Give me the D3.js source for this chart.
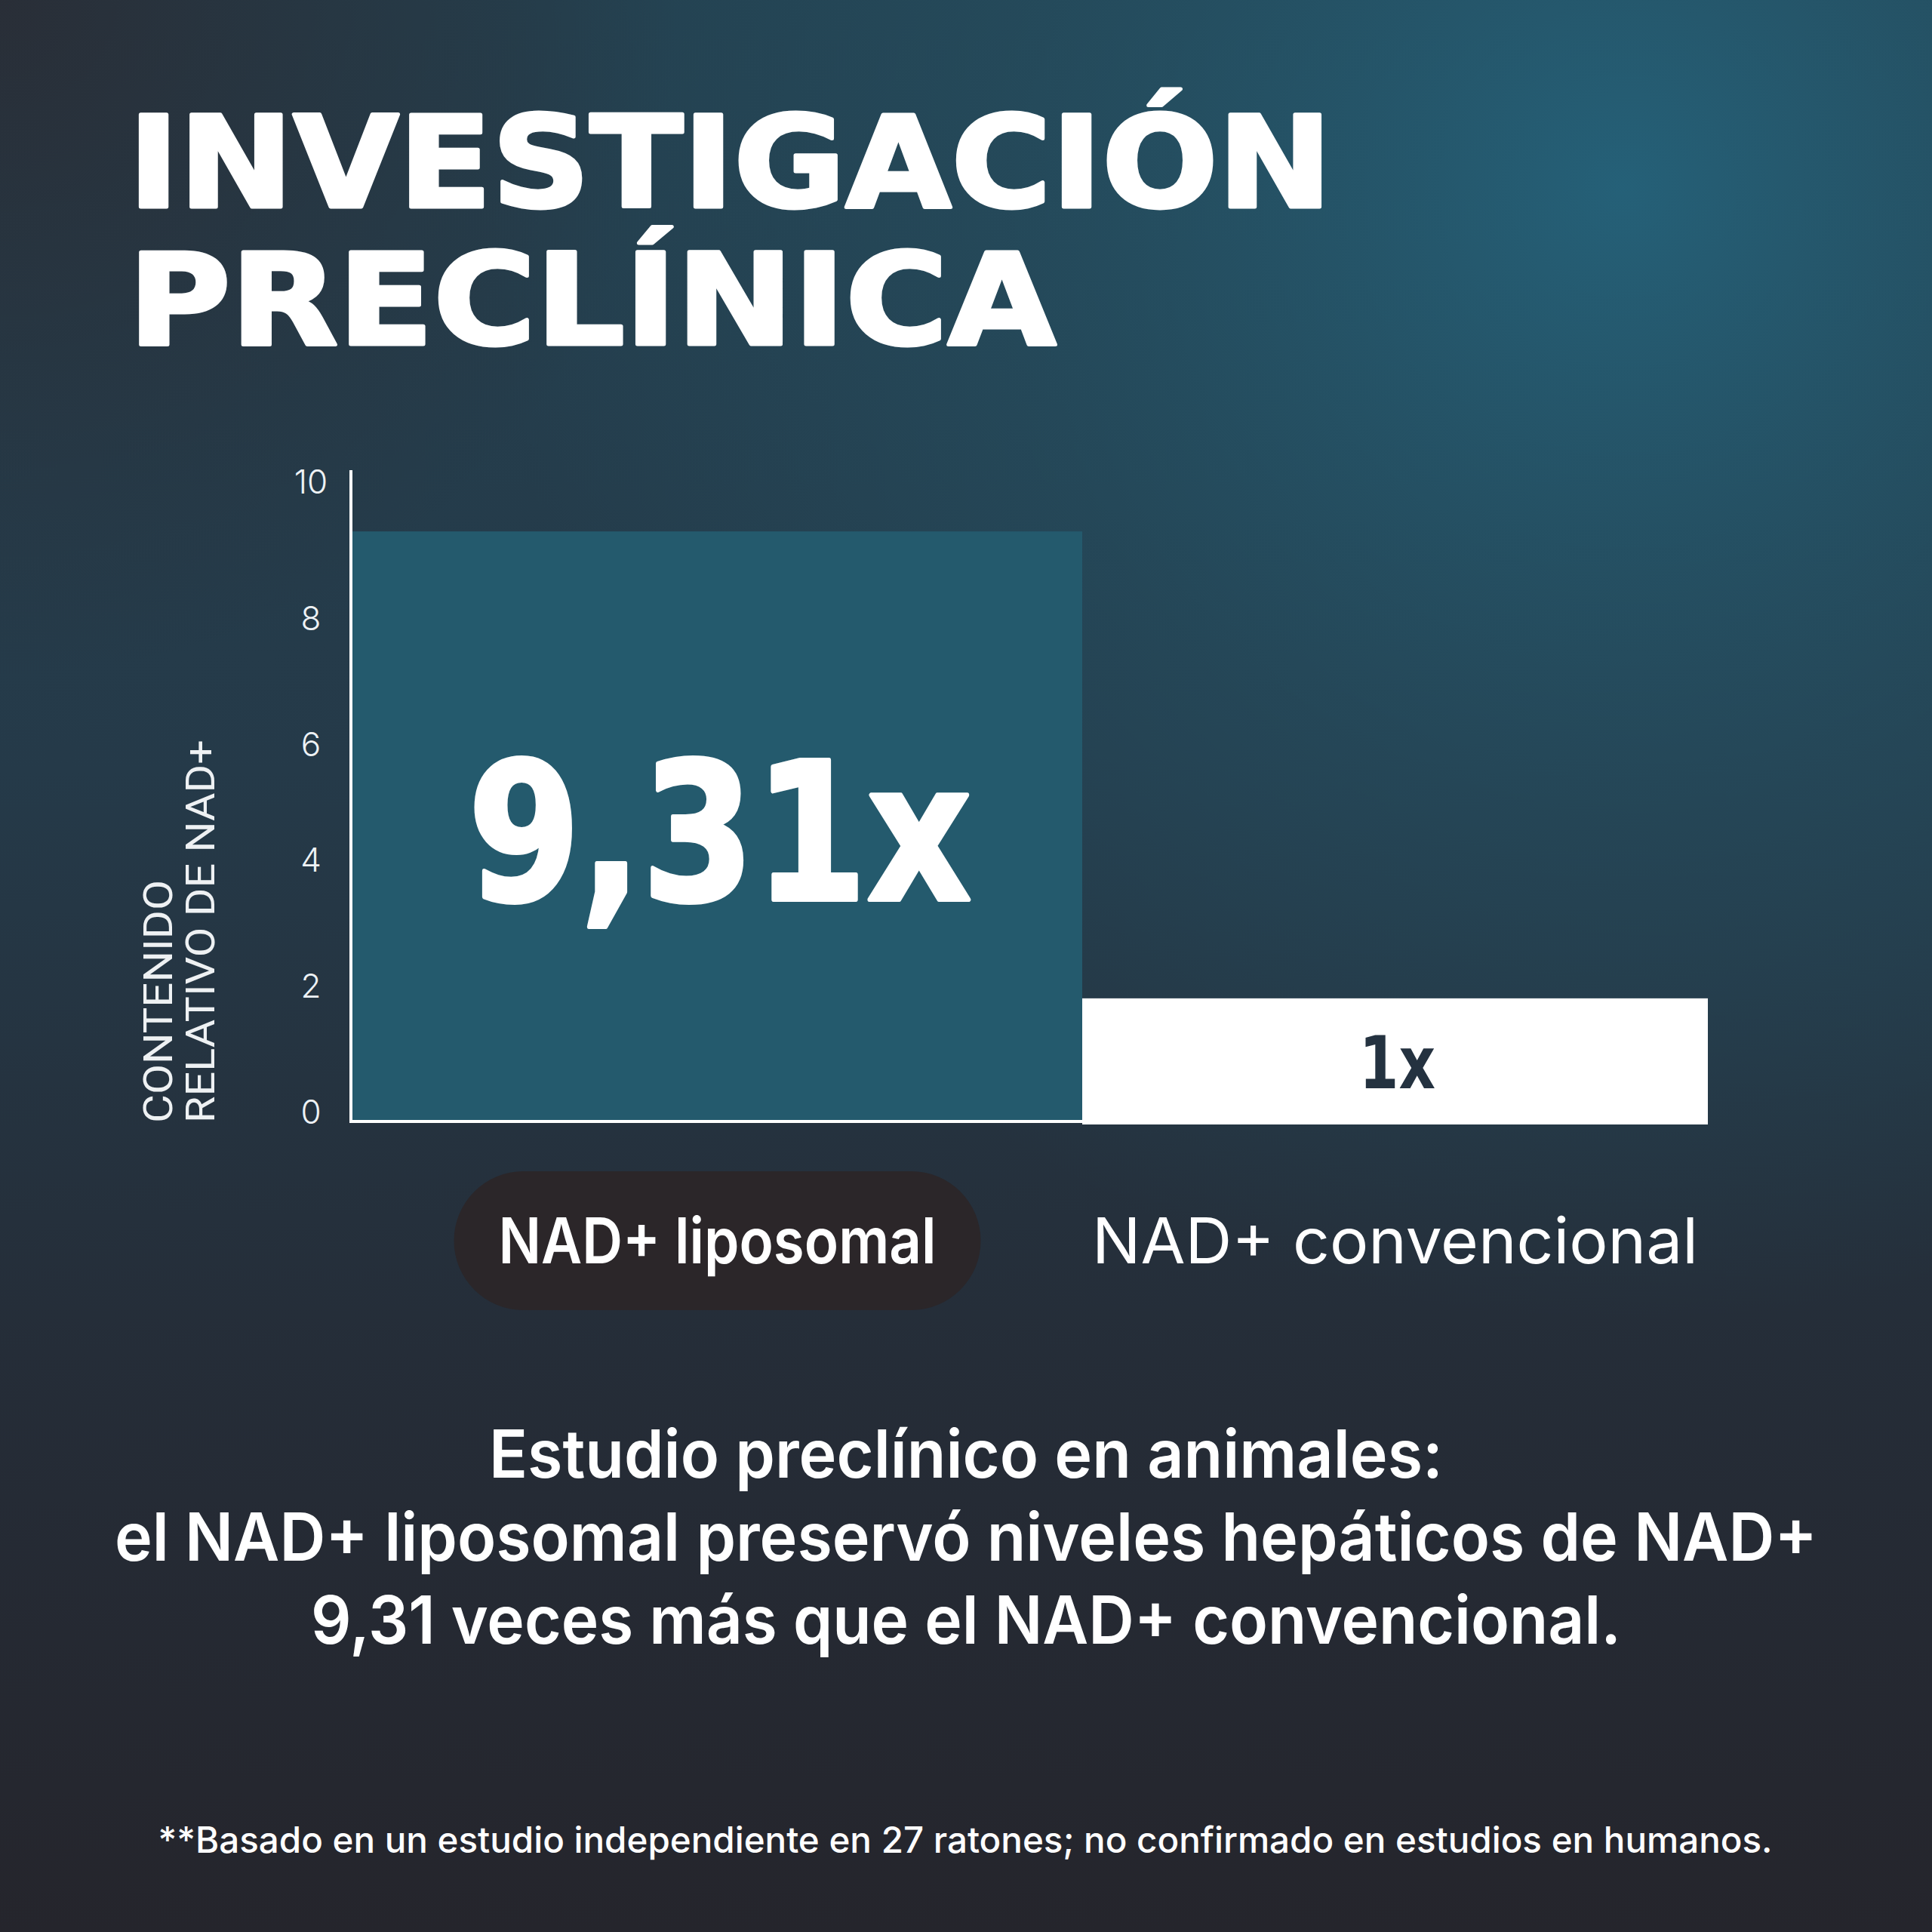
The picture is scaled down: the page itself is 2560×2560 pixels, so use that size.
<!DOCTYPE html>
<html>
<head>
<meta charset="utf-8">
<script src="https://cdn.jsdelivr.net/npm/d3@7"></script>
<style>
  html, body { margin: 0; padding: 0; background: #24303a; }
  svg { display: block; }
</style>
</head>
<body>
<div id="chart"></div>
<script>
// data
var categories = ["NAD+ liposomal", "NAD+ convencional"]
var barValues  = [9.22, 1.81]          // heights as drawn against the axis
var barLabels  = ["9,31x", "1x"]
var tickValues = [0, 2, 4, 6, 8, 10]
var titleLines = ["INVESTIGACIÓN", "PRECLÍNICA"]
var axisTitle  = ["CONTENIDO", "RELATIVO DE NAD+"]
var bodyLines  = ["Estudio preclínico en animales:",
                  "el NAD+ liposomal preservó niveles hepáticos de NAD+",
                  "9,31 veces más que el NAD+ convencional."]
var footnote   = "**Basado en un estudio independiente en 27 ratones; no confirmado en estudios en humanos."

var W = 2560, H = 2560

var cTeal = "#245a6d",
	cPill = "#2b2629",
	cWhite = "#ffffff",
	cInk = "#243240"

var svg = d3.select("#chart")
	.append("svg")
	.attr("width", W)
	.attr("height", H)

// background gradients
var defs = svg.append("defs")

var bgLin = defs.append("linearGradient")
	.attr("id", "bgLin")
	.attr("x1", 0).attr("y1", 0).attr("x2", 0).attr("y2", 1)
bgLin.append("stop").attr("offset", "0%").attr("stop-color", "#24404f")
bgLin.append("stop").attr("offset", "40%").attr("stop-color", "#253a49")
bgLin.append("stop").attr("offset", "70%").attr("stop-color", "#252d38")
bgLin.append("stop").attr("offset", "100%").attr("stop-color", "#25252c")

var glow = defs.append("radialGradient")
	.attr("id", "glow")
	.attr("gradientUnits", "userSpaceOnUse")
	.attr("cx", 2150).attr("cy", 250).attr("r", 1500)
glow.append("stop").attr("offset", "0%").attr("stop-color", "#25627a").attr("stop-opacity", 0.95)
glow.append("stop").attr("offset", "55%").attr("stop-color", "#255568").attr("stop-opacity", 0.45)
glow.append("stop").attr("offset", "100%").attr("stop-color", "#255568").attr("stop-opacity", 0)

var corner = defs.append("radialGradient")
	.attr("id", "corner")
	.attr("gradientUnits", "userSpaceOnUse")
	.attr("cx", 0).attr("cy", 0).attr("r", 900)
corner.append("stop").attr("offset", "0%").attr("stop-color", "#2a2b33").attr("stop-opacity", 0.85)
corner.append("stop").attr("offset", "100%").attr("stop-color", "#2a2b33").attr("stop-opacity", 0)

svg.append("rect").attr("width", W).attr("height", H).attr("fill", "url(#bgLin)")
svg.append("rect").attr("width", W).attr("height", H).attr("fill", "url(#glow)")
svg.append("rect").attr("width", W).attr("height", H).attr("fill", "url(#corner)")

// title
svg.selectAll(".title")
	.data(titleLines)
	.enter()
	.append("text")
	.attr("class", "title")
	.attr("x", 170)
	.attr("y", function(d, i) { return 274 + i * 182 })
	.attr("font-family", "DejaVu Sans")
	.attr("font-weight", "bold")
	.attr("font-size", 168)
	.attr("fill", cWhite)
	.attr("stroke", cWhite)
	.attr("stroke-width", 5)
	.attr("stroke-linejoin", "round")
	.attr("textLength", function(d, i) { return i == 0 ? 1595 : 1229 })
	.attr("lengthAdjust", "spacingAndGlyphs")
	.text(function(d) { return d })

// scales
var y = d3.scaleLinear().domain([0, 10]).range([1474, 639])
var baseY = y(0) + 12
var x = d3.scaleOrdinal().domain(categories).range([[467, 1434], [1434, 2263]])
var xMid = function(c) { var e = x(c); return (e[0] + e[1]) / 2 }

var bars = categories.map(function(c, i) { return {cat: c, v: barValues[i], lab: barLabels[i]} })

svg.selectAll(".bar")
	.data(bars)
	.enter()
	.append("rect")
	.attr("class", "bar")
	.attr("x", function(d) { return x(d.cat)[0] })
	.attr("width", function(d) { return x(d.cat)[1] - x(d.cat)[0] })
	.attr("y", function(d) { return y(d.v) })
	.attr("height", function(d) { return baseY + (d.cat == categories[1] ? 4 : 0) - y(d.v) })
	.attr("fill", function(d, i) { return i == 0 ? cTeal : cWhite })

// axis lines
svg.append("line")
	.attr("x1", 465).attr("x2", 465)
	.attr("y1", y(10) - 16).attr("y2", baseY + 2)
	.attr("stroke", cWhite).attr("stroke-width", 4)
svg.append("line")
	.attr("x1", 463).attr("x2", x(categories[1])[1])
	.attr("y1", baseY).attr("y2", baseY)
	.attr("stroke", cWhite).attr("stroke-width", 4)

// ticks via d3 axis, domain and tick lines hidden
var yAxis = svg.append("g")
	.attr("transform", "translate(412,0)")
	.call(d3.axisLeft(y).tickValues(tickValues).tickSize(0).tickPadding(0))
yAxis.select(".domain").remove()
yAxis.selectAll("text")
	.attr("text-anchor", "middle")
	.attr("dy", function(d) { return (d == 8 || d == 6) ? "0.65em" : "0.32em" })
	.attr("font-family", "Inter")
	.attr("font-weight", 300)
	.attr("font-size", 44)
	.attr("fill", "#eef2f5")

// axis title, rotated
svg.selectAll(".axisTitle")
	.data(axisTitle)
	.enter()
	.append("text")
	.attr("class", "axisTitle")
	.attr("transform", function(d, i) { return "translate(" + (228 + i * 56) + ",1488) rotate(-90)" })
	.attr("font-family", "Roboto")
	.attr("font-size", 54)
	.attr("fill", "#eef1f3")
	.attr("textLength", function(d, i) { return i == 0 ? 322 : 508 })
	.attr("lengthAdjust", "spacingAndGlyphs")
	.text(function(d) { return d })

// value labels
svg.append("text")
	.attr("x", xMid(categories[0]) + 3)
	.attr("y", 1192)
	.attr("text-anchor", "middle")
	.attr("font-family", "DejaVu Sans")
	.attr("font-weight", "bold")
	.attr("font-size", 254)
	.attr("fill", cWhite)
	.attr("stroke", cWhite)
	.attr("stroke-width", 6)
	.attr("stroke-linejoin", "round")
	.attr("textLength", 667)
	.attr("lengthAdjust", "spacingAndGlyphs")
	.text(barLabels[0])

svg.append("text")
	.attr("x", xMid(categories[1]) + 3)
	.attr("y", 1442)
	.attr("text-anchor", "middle")
	.attr("font-family", "DejaVu Sans")
	.attr("font-weight", "bold")
	.attr("font-size", 96)
	.attr("fill", cInk)
	.attr("textLength", 101)
	.attr("lengthAdjust", "spacingAndGlyphs")
	.text(barLabels[1])

// category labels, first one in a pill
svg.append("rect")
	.attr("x", xMid(categories[0]) - 349)
	.attr("y", 1552)
	.attr("width", 698)
	.attr("height", 184)
	.attr("rx", 92)
	.attr("fill", cPill)

svg.selectAll(".catLabel")
	.data(categories)
	.enter()
	.append("text")
	.attr("class", "catLabel")
	.attr("x", function(d) { return xMid(d) })
	.attr("y", 1674)
	.attr("text-anchor", "middle")
	.attr("font-family", "Inter")
	.attr("font-weight", function(d, i) { return i == 0 ? 600 : 400 })
	.attr("font-size", 84)
	.attr("fill", cWhite)
	.attr("textLength", function(d, i) { return i == 0 ? 580 : 803 })
	.attr("lengthAdjust", "spacingAndGlyphs")
	.text(function(d) { return d })

// body text
var bodyWidths = [1264, 2256, 1736]
svg.selectAll(".body")
	.data(bodyLines)
	.enter()
	.append("text")
	.attr("class", "body")
	.attr("x", 1280)
	.attr("y", function(d, i) { return 1958 + i * 110 })
	.attr("text-anchor", "middle")
	.attr("font-family", "Inter")
	.attr("font-weight", 600)
	.attr("font-size", 88)
	.attr("fill", cWhite)
	.attr("textLength", function(d, i) { return bodyWidths[i] })
	.attr("lengthAdjust", "spacingAndGlyphs")
	.text(function(d) { return d })

svg.append("text")
	.attr("x", 1279)
	.attr("y", 2455)
	.attr("text-anchor", "middle")
	.attr("font-family", "Inter")
	.attr("font-weight", 500)
	.attr("font-size", 48)
	.attr("fill", cWhite)
	.attr("textLength", 2139)
	.attr("lengthAdjust", "spacingAndGlyphs")
	.text(footnote)
</script>
</body>
</html>
